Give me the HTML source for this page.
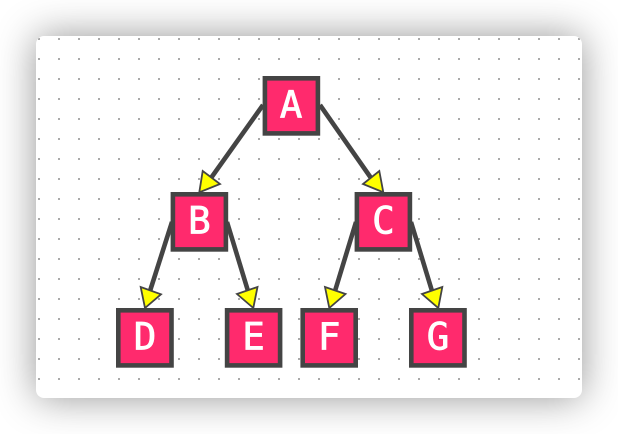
<!DOCTYPE html>
<html>
<head>
<meta charset="utf-8">
<style>
html,body{margin:0;padding:0;width:618px;height:434px;background:#fff;overflow:hidden}
#card{position:absolute;left:36px;top:36px;width:546px;height:362px;border-radius:8px;background-color:#fff;
box-shadow:0 0 40px rgba(0,0,0,.42)}
svg{position:absolute;left:0;top:0}
text{font-family:"DejaVu Sans Mono","Liberation Mono",monospace;font-size:37.5px;fill:#fff;stroke:#fff;stroke-width:.8px;text-anchor:middle}
</style>
</head>
<body>
<div id="card"></div>
<svg width="618" height="434" viewBox="0 0 618 434" xmlns="http://www.w3.org/2000/svg">
<defs>
<pattern id="dots" x="38" y="38" width="20" height="20" patternUnits="userSpaceOnUse">
<rect x="0" y="0" width="2" height="2" fill="#aaa"/>
</pattern>
<clipPath id="cardclip"><rect x="36" y="36" width="546" height="362" rx="8"/></clipPath>
</defs>
<rect x="36" y="36" width="546" height="362" fill="url(#dots)" clip-path="url(#cardclip)"/>
<g stroke="#444" stroke-width="4.6" fill="none">
<line x1="263" y1="105" x2="211" y2="178"/>
<line x1="320" y1="105" x2="371" y2="178"/>
<line x1="172" y1="222" x2="150" y2="291"/>
<line x1="227" y1="222" x2="248" y2="291"/>
<line x1="356" y1="222" x2="335" y2="291"/>
<line x1="411" y1="222" x2="432" y2="291"/>
</g>
<g fill="#ffff00" stroke="#444" stroke-width="1.8" stroke-linejoin="miter">
<polygon points="199.3,192.3 202.7,171 220,184"/>
<polygon points="383.3,192.3 379.3,171 363,184"/>
<polygon points="145,308 140.7,287 161,294.3"/>
<polygon points="253.3,308 257.5,287 237,294"/>
<polygon points="329.3,308 325,287 345.5,294"/>
<polygon points="438.3,308 442.3,287 422,294"/>
</g>
<g fill="#ff2a6d" stroke="#444" stroke-width="4.6">
<rect x="264.9" y="78.3" width="53" height="55.1"/>
<rect x="172.9" y="194.3" width="53" height="55.1"/>
<rect x="356.9" y="194.3" width="53" height="55.1"/>
<rect x="118.3" y="310.3" width="53.2" height="55.1"/>
<rect x="227.1" y="310.3" width="53" height="55.1"/>
<rect x="302.7" y="310.3" width="53" height="55.1"/>
<rect x="411.3" y="310.3" width="53.2" height="55.1"/>
</g>
<text x="291" y="117.5">A</text>
<text x="199.4" y="233.5">B</text>
<text x="383.4" y="233.5">C</text>
<text x="145" y="349.5">D</text>
<text x="253.6" y="349.5">E</text>
<text x="329.2" y="349.5">F</text>
<text x="438" y="349.5">G</text>
</svg>
</body>
</html>
